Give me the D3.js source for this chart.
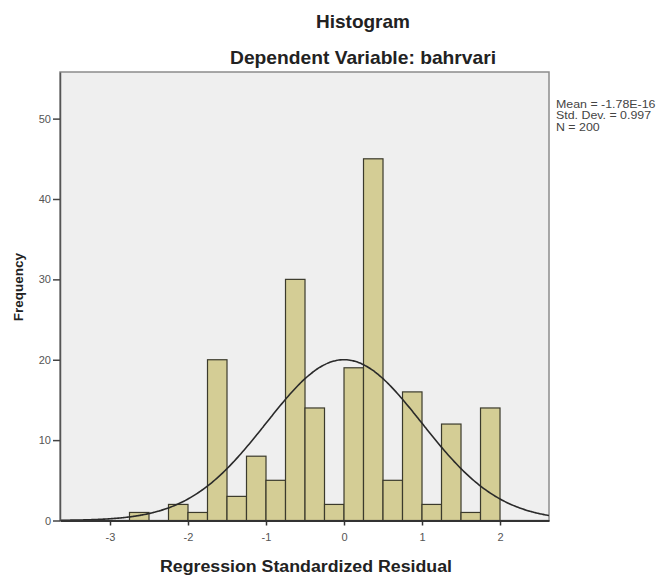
<!DOCTYPE html>
<html>
<head>
<meta charset="utf-8">
<script src="https://cdn.jsdelivr.net/npm/d3@7"></script>
<style>
  html, body { margin: 0; padding: 0; background: #ffffff; }
  svg { display: block; }
  text { font-family: "Liberation Sans", Arial, sans-serif; }
</style>
</head>
<body>
<svg id="chart" width="662" height="575"></svg>
<script>
// ---- data ----
const binLower = [-2.75, -2.5, -2.25, -2.0, -1.75, -1.5, -1.25, -1.0, -0.75, -0.5, -0.25, 0.0, 0.25, 0.5, 0.75, 1.0, 1.25, 1.5, 1.75];
const binWidth = 0.25;
const counts   = [1, 0, 2, 1, 20, 3, 8, 5, 30, 14, 2, 19, 45, 5, 16, 2, 12, 1, 14];
const xTicks = [-3, -2, -1, 0, 1, 2];
const yTicks = [0, 10, 20, 30, 40, 50];
const statMean = -1.78e-16;
const statSD = 0.997;
const statN = 200;
const statLabels = ["Mean = -1.78E-16", "Std. Dev. = 0.997", "N = 200"];
const titleText = "Histogram";
const subtitleText = "Dependent Variable: bahrvari";
const xTitle = "Regression Standardized Residual";
const yTitle = "Frequency";

(function () {
// ---- layout ----
const svg = d3.select("#chart");
const pLeft = 60, pRight = 549, pTop = 72, pBottom = 520.5;

const x = d3.scaleLinear().domain([-3.641, 2.628]).range([pLeft, pRight]);
const y = d3.scaleLinear().domain([0, 55.8]).range([pBottom, pTop]);

// plot background + frame
svg.append("rect")
  .attr("x", pLeft).attr("y", pTop)
  .attr("width", pRight - pLeft).attr("height", pBottom - pTop)
  .attr("fill", "#efefef")
  .attr("stroke", "#8c8c8c").attr("stroke-width", 1.5);

// bars
const bins = binLower.map((b, i) => ({ x0: b, x1: b + binWidth, n: counts[i] })).filter(d => d.n > 0);
svg.append("g").selectAll("rect").data(bins).join("rect")
  .attr("x", d => x(d.x0))
  .attr("y", d => y(d.n))
  .attr("width", d => x(d.x1) - x(d.x0))
  .attr("height", d => y(0) - y(d.n))
  .attr("fill", "#d4cd95")
  .attr("stroke", "#3b3a2c")
  .attr("stroke-width", 1.2);

// normal curve
const pdf = v => Math.exp(-0.5 * Math.pow((v - statMean) / statSD, 2)) / (statSD * Math.sqrt(2 * Math.PI));
const xs = d3.range(0, 301).map(i => -3.641 + i * (2.628 + 3.641) / 300);
const line = d3.line().x(v => x(v)).y(v => y(statN * binWidth * pdf(v))).curve(d3.curveBasis);
svg.append("path")
  .attr("d", line(xs))
  .attr("fill", "none")
  .attr("stroke", "#2a2a2a")
  .attr("stroke-width", 1.6);

// axes
const fmt = d => String(d);
const yAxis = d3.axisLeft(y).tickValues(yTicks).tickSize(7).tickSizeOuter(0).tickPadding(2).tickFormat(fmt);
const gy = svg.append("g").attr("transform", `translate(${pLeft},0)`).call(yAxis);
gy.select(".domain").attr("stroke", "#555").attr("stroke-width", 1.5);
gy.selectAll(".tick line").attr("stroke", "#444").attr("stroke-width", 1.5);
gy.selectAll(".tick text").attr("font-size", 11).attr("fill", "#555").attr("font-family", "Liberation Sans, Arial, sans-serif");

const xAxis = d3.axisBottom(x).tickValues(xTicks).tickSize(5).tickSizeOuter(0).tickPadding(8).tickFormat(fmt);
const gx = svg.append("g").attr("transform", `translate(0,${pBottom})`).call(xAxis);
gx.select(".domain").attr("stroke", "#333").attr("stroke-width", 2);
gx.selectAll(".tick line").attr("stroke", "#333").attr("stroke-width", 1.5);
gx.selectAll(".tick text").attr("font-size", 11).attr("fill", "#555").attr("font-family", "Liberation Sans, Arial, sans-serif");

// titles
svg.append("text").text(titleText)
  .attr("x", 363).attr("y", 28).attr("text-anchor", "middle")
  .attr("font-size", 19).attr("font-weight", "bold").attr("fill", "#222");
svg.append("text").text(subtitleText)
  .attr("x", 363).attr("y", 64).attr("text-anchor", "middle")
  .attr("font-size", 19).attr("font-weight", "bold").attr("fill", "#222")
  .attr("textLength", 266).attr("lengthAdjust", "spacingAndGlyphs");

svg.append("text").text(xTitle)
  .attr("x", 306).attr("y", 572).attr("text-anchor", "middle")
  .attr("font-size", 16).attr("font-weight", "bold").attr("fill", "#222")
  .attr("textLength", 292).attr("lengthAdjust", "spacingAndGlyphs");

svg.append("text").text(yTitle)
  .attr("transform", "translate(23,287) rotate(-90)")
  .attr("text-anchor", "middle")
  .attr("font-size", 13.5).attr("font-weight", "bold").attr("fill", "#222");

// stats box
svg.append("g").attr("transform", "translate(556,0) scale(1.18,1)")
  .selectAll("text").data(statLabels).join("text")
  .text(d => d)
  .attr("x", 0)
  .attr("y", (d, i) => 108 + i * 11.5)
  .attr("font-size", 10.5).attr("fill", "#444");
})();
</script>
</body>
</html>
